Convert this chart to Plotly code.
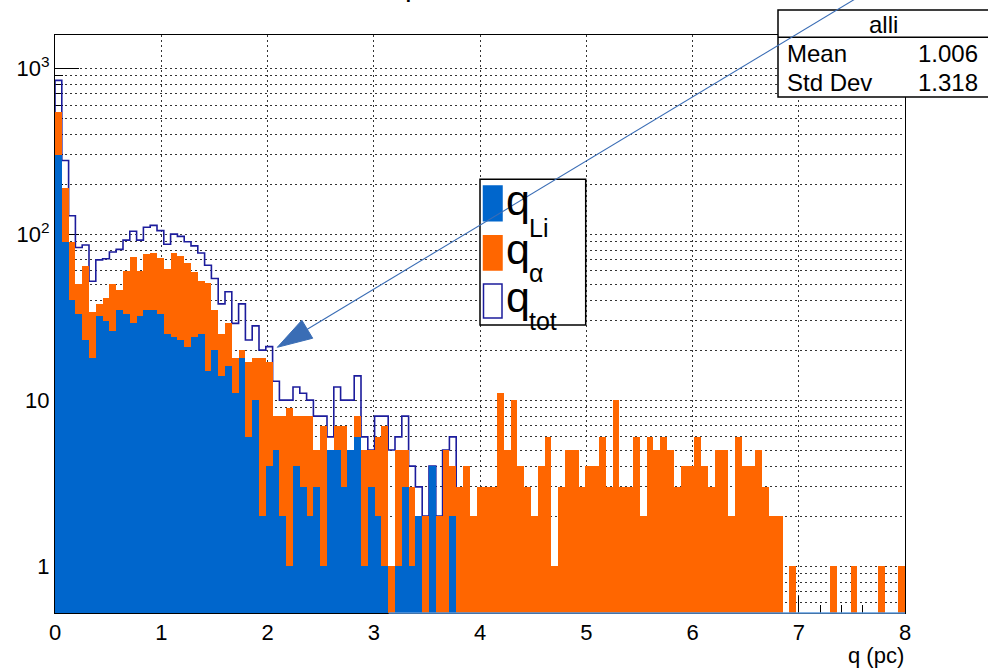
import numpy as np
import plotly.graph_objects as go

# ---------------- data ----------------
X_MIN, X_MAX, N_BINS = 0.0, 8.0, 125

li_counts = [300, 90, 40, 33, 23, 18, 32, 30, 26, 35,
             33, 29, 32, 35, 35, 33, 25, 24, 23, 21,
             24, 25, 15, 20, 14, 16, 11, 18, 6, 10,
             2, 4, 5, 2, 1, 4, 3, 2, 3, 1,
             5, 5, 3, 5, 6, 1, 3, 2, 1, 0,
             1, 3, 1, 2, 0, 4, 0, 0, 2] + [0] * 66

alpha_counts = [545, 190, 90, 50, 64, 34, 38, 41, 50, 46,
                60, 73, 60, 76, 77, 72, 62, 77, 74, 67,
                59, 52, 51, 35, 25, 29, 18, 20, 17, 18,
                18, 17, 8, 8, 9, 8, 8, 8, 5, 7,
                1, 7, 7, 5, 8, 5, 5, 6, 7, 1,
                5, 5, 3, 1, 2, 0, 2, 5, 4, 3,
                4, 2, 3, 3, 3, 11, 5, 10, 4, 3,
                2, 4, 6, 1, 3, 5, 5, 3, 4, 4,
                6, 3, 10, 3, 3, 6, 2, 6, 5, 6,
                5, 3, 4, 4, 6, 4, 3, 5, 5, 2,
                6, 4, 4, 5, 3, 2, 2, 0, 1, 0,
                0, 0, 0, 0, 1, 0, 0, 1, 0, 0,
                0, 1, 0, 0, 1]

# visible part of the q_tot outline (bins 0..58)
tot_counts = [845, 278, 129, 83, 86, 52, 70, 71, 78, 81,
              92, 104, 92, 110, 113, 105, 87, 100, 97, 90,
              85, 77, 65, 54, 38, 45, 29, 38, 23, 28,
              20, 21, 13, 10, 10, 12, 11, 10, 8, 8,
              6, 12, 10, 10, 14, 6, 5, 8, 8, 5,
              6, 8, 4, 3, 2, 4, 2, 5, 6]

x_ticks = [0, 1, 2, 3, 4, 5, 6, 7, 8]
y_tickvals = [1, 10, 100, 1000]
y_ticktext = ["1", "10", "10<sup>2</sup>", "10<sup>3</sup>"]
y_minor = [0.6, 0.7, 0.8, 0.9, 2, 3, 4, 5, 6, 7, 8, 9,
           20, 30, 40, 50, 60, 70, 80, 90,
           200, 300, 400, 500, 600, 700, 800, 900]

stats_title = "alli"
stats_rows = [("Mean", "1.006"), ("Std Dev", "1.318")]
legend_subs = ["Li", "α", "tot"]
x_title = "q (pc)"

# ---------------- styling ----------------
BLUE = "#0066cc"
ORANGE = "#ff6600"
NAVY = "#1c1c9c"
ARROW = "#3a6db5"
FONT = "Liberation Sans, Arial, Helvetica, sans-serif"
Y_RANGE = [-0.283, 3.2]

W, H = 988, 668
L, R, T, B = 55, 905, 35, 613


def px(x):
    return (x - L) / (R - L)


def py(y):
    return (B - y) / (B - T)


edges = np.linspace(X_MIN, X_MAX, N_BINS + 1)
bw = edges[1] - edges[0]
centers = edges[:-1] + bw / 2

fig = go.Figure()

# outline (drawn on base axes, beneath the filled histograms)
nt = len(tot_counts)
ox = [edges[0]] + list(edges[:nt + 1]) + [edges[nt]]
oy = [0.1] + list(tot_counts) + [tot_counts[-1], 0.1]
fig.add_trace(go.Scatter(x=ox, y=oy, mode="lines", line=dict(color=NAVY, width=1.6, shape="hv"),
                         xaxis="x", yaxis="y", showlegend=False, hoverinfo="skip"))

fig.add_trace(go.Bar(x=centers, y=[v if v > 0 else None for v in alpha_counts], width=bw,
                     marker=dict(color=ORANGE, line=dict(width=0)), xaxis="x2", yaxis="y2",
                     showlegend=False))
fig.add_trace(go.Bar(x=centers, y=[v if v > 0 else None for v in li_counts], width=bw,
                     marker=dict(color=BLUE, line=dict(width=0)), xaxis="x2", yaxis="y2",
                     showlegend=False))

tickfont = dict(family=FONT, size=22, color="black")
GRID = "#333"
fig.update_layout(
    width=W, height=H,
    margin=dict(l=L, r=W - R, t=T, b=H - B),
    paper_bgcolor="white", plot_bgcolor="white",
    barmode="overlay", bargap=0,
    showlegend=False,
    xaxis=dict(range=[X_MIN, X_MAX], tickvals=x_ticks, ticks="inside", ticklen=17, tickwidth=1,
               tickcolor="black", showline=True, mirror=True, linecolor="black", linewidth=1,
               showgrid=True, gridcolor=GRID, griddash="2px,3px", gridwidth=1,
               zeroline=False, tickfont=tickfont, layer="below traces",
               minor=dict(dtick=0.2, tick0=0, ticks="inside", ticklen=8, tickcolor="black",
                          showgrid=False)),
    yaxis=dict(type="log", range=Y_RANGE, tickvals=y_tickvals, ticktext=y_ticktext,
               ticks="inside", ticklen=24, tickwidth=1, tickcolor="black",
               showline=True, mirror=True, linecolor="black", linewidth=1,
               showgrid=True, gridcolor=GRID, griddash="2px,3px", gridwidth=1,
               zeroline=False, tickfont=tickfont, layer="below traces",
               minor=dict(tickvals=y_minor, ticks="inside", ticklen=8, tickcolor="black",
                          showgrid=True, gridcolor=GRID, griddash="2px,3px", gridwidth=1)),
    xaxis2=dict(range=[X_MIN, X_MAX], overlaying="x", anchor="y2", visible=False),
    yaxis2=dict(type="log", range=Y_RANGE, overlaying="y", anchor="x2", visible=False),
)

shapes = []
annotations = []

# light blue base line under the alpha region
shapes.append(dict(type="line", xref="x", yref="paper", x0=3.14, x1=8.0, y0=0, y1=0,
                   line=dict(color="#5b9be0", width=1.5), layer="above"))

# legend box
shapes.append(dict(type="rect", xref="paper", yref="paper", x0=px(480), x1=px(585.7),
                   y0=py(325), y1=py(179.3), fillcolor="white", line=dict(color="black", width=1.5),
                   layer="above"))
sq = [(186, 220.7, BLUE, BLUE), (235.7, 270, ORANGE, ORANGE), (284, 318, "white", NAVY)]
for (t0, t1, fc, lc) in sq:
    shapes.append(dict(type="rect", xref="paper", yref="paper", x0=px(483.5), x1=px(502),
                       y0=py(t1), y1=py(t0), fillcolor=fc, line=dict(color=lc, width=1.5),
                       layer="above"))
q_y = [200, 249, 297]
sub_y = [228, 273, 321]
for i, sub in enumerate(legend_subs):
    annotations.append(dict(xref="paper", yref="paper", x=px(504), y=py(q_y[i]), text="q",
                            showarrow=False, xanchor="left", yanchor="middle",
                            font=dict(family=FONT, size=43, color="black")))
    annotations.append(dict(xref="paper", yref="paper", x=px(527), y=py(sub_y[i]), text=sub,
                            showarrow=False, xanchor="left", yanchor="middle",
                            font=dict(family=FONT, size=25, color="black")))

# stats box
shapes.append(dict(type="rect", xref="paper", yref="paper", x0=px(778), x1=px(995),
                   y0=py(97), y1=py(10), fillcolor="white", line=dict(color="black", width=1.5),
                   layer="above"))
shapes.append(dict(type="line", xref="paper", yref="paper", x0=px(778), x1=px(995),
                   y0=py(37.3), y1=py(37.3), line=dict(color="black", width=1.5), layer="above"))
annotations.append(dict(xref="paper", yref="paper", x=px(883), y=py(24), text=stats_title,
                        showarrow=False, xanchor="center", yanchor="middle",
                        font=dict(family=FONT, size=24, color="black")))
for i, (k, v) in enumerate(stats_rows):
    yy = 54 + 28.5 * i
    annotations.append(dict(xref="paper", yref="paper", x=px(785), y=py(yy), text=k,
                            showarrow=False, xanchor="left", yanchor="middle",
                            font=dict(family=FONT, size=24, color="black")))
    annotations.append(dict(xref="paper", yref="paper", x=px(980), y=py(yy), text=v,
                            showarrow=False, xanchor="right", yanchor="middle",
                            font=dict(family=FONT, size=24, color="black")))

# arrow (line + filled head)
tip = np.array([277.3, 347.3])
far = np.array([886.6, -20.0])
u = (far - tip) / np.linalg.norm(far - tip)
n = np.array([-u[1], u[0]])
base = tip + 35 * u
v1 = base + 10.5 * n
v2 = base - 10.5 * n
shapes.append(dict(type="line", xref="paper", yref="paper", x0=px(base[0]), y0=py(base[1]),
                   x1=px(far[0]), y1=py(far[1]), line=dict(color=ARROW, width=1.1), layer="above"))
path = "M {},{} L {},{} L {},{} Z".format(px(tip[0]), py(tip[1]), px(v1[0]), py(v1[1]),
                                         px(v2[0]), py(v2[1]))
shapes.append(dict(type="path", xref="paper", yref="paper", path=path, fillcolor=ARROW,
                   line=dict(color=ARROW, width=1), layer="above"))

# axis title
annotations.append(dict(xref="paper", yref="paper", x=px(906), y=py(655), text=x_title,
                        showarrow=False, xanchor="right", yanchor="middle",
                        font=dict(family=FONT, size=22, color="black")))
# cut-off title fragment at the very top
annotations.append(dict(xref="paper", yref="paper", x=px(413), y=py(4), text="p",
                        showarrow=False, xanchor="center", yanchor="bottom",
                        font=dict(family=FONT, size=30, color="black")))

fig.update_layout(shapes=shapes, annotations=annotations)
fig.write_html("out.html")
